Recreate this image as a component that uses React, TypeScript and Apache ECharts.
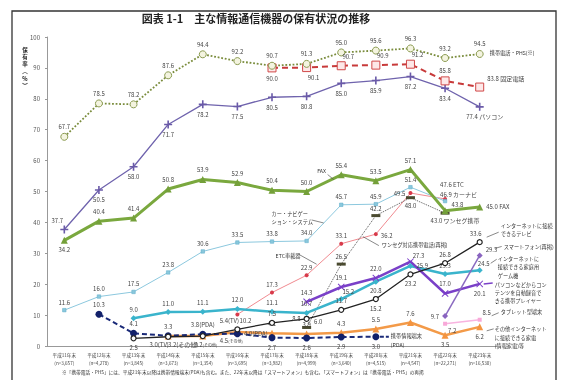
import React, { useEffect, useRef } from "react";
import * as echarts from "echarts";

const FONT = '"Noto Sans CJK JP", "Noto Sans", sans-serif';

const categories = ["平成11年末", "平成12年末", "平成13年末", "平成14年末", "平成15年末", "平成16年末", "平成17年末", "平成18年末", "平成19年末", "平成20年末", "平成21年末", "平成22年末", "平成23年末"];
const sampleSizes = ["3,657", "4,278", "3,845", "3,673", "3,354", "3,695", "3,982", "4,999", "3,640", "4,515", "4,547", "22,271", "16,530"];

const N = null;
const mobile = [67.7, 78.5, 78.2, 87.6, 94.4, 92.2, 90.7, 91.3, 95.0, 95.6, 96.3, 93.2, 94.5];
const landline = [N, N, N, N, N, N, 90.0, 90.1, 90.7, 90.9, 91.2, 85.8, 83.8];
const pc = [37.7, 50.5, 58.0, 71.7, 78.2, 77.5, 80.5, 80.8, 85.0, 85.9, 87.2, 83.4, 77.4];
const fax = [34.2, 40.4, 41.4, 50.8, 53.9, 52.9, 50.4, 50.0, 55.4, 53.5, 57.1, 43.8, 45.0];
const carNavi = [11.6, 16.0, 17.5, 23.8, 30.6, 33.5, 33.8, 34.0, 45.7, 45.9, 51.4, 46.9, N];
const etc = [N, N, N, N, N, 10.2, 17.3, 22.9, 33.1, 36.2, 49.5, 47.6, N];
const oneSeg = [N, N, N, N, N, N, N, 6.0, 26.5, 42.2, 48.0, 43.0, N];
const netTv = [N, N, 2.5, 3.0, 3.2, 5.4, 7.5, 8.8, 11.7, 15.2, 23.2, 26.8, 33.6];
const gameConsole = [N, N, 9.0, 11.0, 11.1, 12.0, 11.1, 10.7, 15.2, 20.8, 25.9, 23.3, 24.5];
const musicPlayer = [N, N, N, N, N, N, N, 14.3, 19.1, 22.0, 27.3, 17.0, 20.1];
const smartphone = [N, N, N, N, N, N, N, N, N, N, N, 9.7, 29.3];
const tablet = [N, N, N, N, N, N, N, N, N, N, N, 7.2, 8.5];
const otherAppliance = [N, N, N, 3.2, 3.2, 4.5, 4.1, 3.9, 4.3, 5.5, 7.6, 3.5, 6.2];
const pda = [N, 10.3, 4.1, 3.3, 3.8, 4.0, 2.7, 2.6, 2.9, 3.0, N, N, N];

const yAxisTitleChars = ["保", "有", "率", "︵", "%", "︶"];

const PLUS = "path://M4,0H6V4H10V6H6V10H4V6H0V4H4Z";
const CROSS = "path://M1,0L5,4L9,0L10,1L6,5L10,9L9,10L5,6L1,10L0,9L4,5L0,1Z";

function labelFor(code: string): any {
  const [c, dx, dy] = code.split(":");
  let base: any;
  switch (c) {
    case "t": base = { position: "top", distance: 3 }; break;
    case "b": base = { position: "bottom", distance: 3 }; break;
    case "l": base = { position: "left", distance: 3 }; break;
    case "r": base = { position: "right", distance: 3 }; break;
    case "tr": base = { position: "top", distance: 3, offset: [7, 1] }; break;
    case "br": base = { position: "bottom", distance: 3, offset: [7, -1] }; break;
    case "tl": base = { position: "top", distance: 3, offset: [-7, 1] }; break;
    case "bl": base = { position: "bottom", distance: 3, offset: [-7, -1] }; break;
    case "rt": base = { position: "right", distance: 3, offset: [0, -6] }; break;
    case "rb": base = { position: "right", distance: 3, offset: [0, 5] }; break;
    default: return { show: false };
  }
  if (dx !== undefined) base.offset = [Number(dx), Number(dy)];
  return base;
}

function buildData(values: (number | null)[], pos: string, texts: Record<number, string> = {}) {
  const codes = pos.split(",");
  return values.map((v, i) => {
    if (v == null) return "-";
    const lab = labelFor(codes[i] || "n");
    if (texts[i]) lab.formatter = texts[i];
    return { value: v, label: lab };
  });
}

function line(name: string, values: (number | null)[], pos: string, texts: Record<number, string>, style: any) {
  return {
    name,
    type: "line",
    data: buildData(values, pos, texts),
    connectNulls: false,
    label: {
      show: true,
      fontSize: 6,
      color: "#444",
      fontFamily: FONT,
      formatter: (p: any) => Number(p.value).toFixed(1),
      rich: { s: { fontSize: 4, color: "#444", fontFamily: FONT } },
    },
    ...style,
  };
}

export default function App() {
  const ref = useRef<HTMLDivElement>(null);
  useEffect(() => {
    const chart = echarts.init(ref.current!, null, { renderer: "svg" });
    const option: any = {
      animation: false,
      textStyle: { fontFamily: FONT },
      grid: { left: 47, right: 66, top: 37, bottom: 34 },
      xAxis: {
        type: "category",
        data: categories,
        boundaryGap: true,
        axisLine: { lineStyle: { color: "#999", width: 1 } },
        axisTick: { show: false },
        axisLabel: {
          interval: 0,
          fontSize: 4.6,
          lineHeight: 8,
          color: "#444",
          margin: 5,
          fontFamily: FONT,
          formatter: (v: string, i: number) => `${v}\n(n=${sampleSizes[i]})`,
        },
      },
      yAxis: {
        type: "value",
        min: 0,
        max: 100,
        interval: 10,
        axisLine: { show: true, lineStyle: { color: "#999", width: 1 } },
        axisTick: { show: true, length: 2, lineStyle: { color: "#999" } },
        splitLine: { show: false },
        axisLabel: { fontSize: 6, color: "#555", margin: 7, fontFamily: FONT },
      },
      series: [
        line("その他インターネットに接続できる家電", otherAppliance, "n,n,n,b:15:-1,b:3:-1,b:-6:-1,t,t,t,t,t,b,b",
          { 3: "3.2(その他)", 4: "3.2{s|(その他)}", 5: "4.5{s|(その他)}" },
          { symbol: "triangle", symbolSize: 7, lineStyle: { color: "#f39a48", width: 2.5 }, itemStyle: { color: "#f39440" }, z: 3 }),
        line("携帯情報端末(PDA)", pda, "n,t,t,t,t,r,b,b,b,b,n,n,n",
          { 4: "3.8(PDA)", 5: "4.0(PDA)" },
          { symbol: "circle", symbolSize: 7, lineStyle: { color: "#1a2a78", width: 2, type: [5, 3] }, itemStyle: { color: "#12216a" }, z: 4 }),
        line("インターネットに接続できるテレビ", netTv, "n,n,b,b:-9:-1,n,t:-8:0,t,l,t,b,b,t,t:-4:0",
          { 3: "3.0(TV)", 5: "5.4(TV)" },
          { symbol: "circle", symbolSize: 5, lineStyle: { color: "#222", width: 1.3 }, itemStyle: { color: "#fff", borderColor: "#222", borderWidth: 1.2 }, z: 5 }),
        line("タブレット型端末", tablet, "n,n,n,n,n,n,n,n,n,n,n,br,tr", {},
          { symbol: "rect", symbolSize: 4, lineStyle: { color: "#f8b4e0", width: 1.5 }, itemStyle: { color: "#f8a8d8" }, z: 3 }),
        line("インターネットに接続できる家庭用ゲーム機", gameConsole, "n,n,t,t,t,t,t,t,tr,b,r,t,t:4:2", {},
          { symbol: "diamond", symbolSize: 6, lineStyle: { color: "#3ab4cc", width: 2.5 }, itemStyle: { color: "#3ab4cc" }, z: 4 }),
        line("携帯プレイヤー", musicPlayer, "n,n,n,n,n,n,n,t,t,t,t:8:3,t,b", {},
          { symbol: CROSS, symbolSize: 7, lineStyle: { color: "#7a40c8", width: 2.5 }, itemStyle: { color: "#7a3cc8" }, z: 4 }),
        line("スマートフォン(再掲)", smartphone, "n,n,n,n,n,n,n,n,n,n,n,l,rt", {},
          { symbol: "diamond", symbolSize: 6, lineStyle: { color: "#8a6ac0", width: 1.5 }, itemStyle: { color: "#8a64c0" }, z: 4 }),
        line("ETC車載器", etc, "n,n,n,n,n,b:8:-2,t,t,t,r:0:1,l,r:-10:-14,n", { 11: "47.6 ETC" },
          { symbol: "circle", symbolSize: 4, lineStyle: { color: "#f08a90", width: 1 }, itemStyle: { color: "#d83a4a" }, z: 3 }),
        line("ワンセグ対応携帯電話(再掲)", oneSeg, "n,n,n,n,n,n,n,rt,t,t,b,b:10:0,n", { 11: "43.0 ワンセグ携帯" },
          { symbol: "rect", symbolSize: [9, 3], lineStyle: { color: "#555", width: 1, type: "dotted" }, itemStyle: { color: "#4a4a30" }, z: 3 }),
        line("カー・ナビゲーション・システム", carNavi, "t,t,t,t,t,t,t,t,t,t,t,r:-10:-7,n", { 11: "46.9 カーナビ" },
          { symbol: "rect", symbolSize: 3.5, lineStyle: { color: "#8cc8de", width: 1 }, itemStyle: { color: "#8ac8dc", borderColor: "#5aaac8", borderWidth: 0.5 }, z: 3 }),
        line("FAX", fax, "b,t,t,t,t,t,t,t,t,t,t,rt,r", { 12: "45.0 FAX" },
          { symbol: "triangle", symbolSize: 7, lineStyle: { color: "#7aa83e", width: 3 }, itemStyle: { color: "#74a03a" }, z: 4 }),
        line("パソコン", pc, "tl,b,b,b,b,b,b,b,b,b,b,b,b:5:0", { 12: "77.4 パソコン" },
          { symbol: PLUS, symbolSize: 8, lineStyle: { color: "#6f63ad", width: 1.3 }, itemStyle: { color: "#6a5aa8" }, z: 4 }),
        line("固定電話", landline, "n,n,n,n,n,n,b,br,tr,tr,tr,t,r:0:-9", { 12: "83.8 固定電話" },
          { symbol: "rect", symbolSize: 8, lineStyle: { color: "#c83a3a", width: 2, type: [6, 4] }, itemStyle: { color: "#fde8e8", borderColor: "#d04848", borderWidth: 1 }, z: 4 }),
        line("携帯電話・PHS(※)", mobile, "t,t,t,t,t,t,t,t,t,t,t,t,t", {},
          { symbol: "circle", symbolSize: 7, lineStyle: { color: "#7a8c3c", width: 1.8, type: "dotted" }, itemStyle: { color: "#f4f4e0", borderColor: "#8a9a50", borderWidth: 1 }, z: 4 }),
      ],
    };
    chart.setOption(option);

    const px = (arr: (number | null)[], i: number) => chart.convertToPixel({ gridIndex: 0 }, [i, arr[i] as number]) as number[];

    type Ann = { arr: (number | null)[]; i: number; text: string; dx: number; dy: number; va?: string; align?: string; leader?: number[][]; leaderColor?: string; leaderDash?: boolean; leaderWidth?: number };
    const anns: Ann[] = [
      { arr: mobile, i: 12, text: "携帯電話・PHS(※)", dx: 10, dy: -1, va: "middle" },
      { arr: fax, i: 7, text: "FAX", dx: 15, dy: -21, va: "middle", align: "center", leader: [[21, -17], [27, -12]] },
      { arr: carNavi, i: 7, text: "カー・ナビゲー\nション・システム", dx: -35, dy: -32, va: "top", leader: [[5, -21], [17, -18]] },
      { arr: etc, i: 7, text: "ETC車載器", dx: -31, dy: -20, va: "middle", leader: [[-8, -21], [10, -11]] },
      { arr: oneSeg, i: 9, text: "ワンセグ対応携帯電話(再掲)", dx: 6, dy: 29, va: "middle", leader: [[3, 30], [-13, 21]] },
      { arr: netTv, i: 12, text: "インターネットに接続\nできるテレビ", dx: 21, dy: -21, va: "top", leader: [[7, -5], [19, -10]] },
      { arr: smartphone, i: 12, text: "スマートフォン(再掲)", dx: 24, dy: -9, va: "middle", leader: [[15, -7], [22, -9]] },
      { arr: gameConsole, i: 12, text: "インターネットに\n接続できる家庭用\nゲーム機", dx: 18, dy: -16, va: "top", leader: [[11, -7], [17, -11]] },
      { arr: musicPlayer, i: 12, text: "パソコンなどからコン\nテンツを自動録音で\nきる携帯プレイヤー", dx: 15, dy: -4, va: "top", leader: [[4, 0], [13, -1]], leaderColor: "#7a40c8", leaderWidth: 1.5 },
      { arr: tablet, i: 12, text: "タブレット型端末", dx: 21, dy: -8, va: "middle", leader: [[12, -4], [19, -7]] },
      { arr: otherAppliance, i: 12, text: "その他インターネット\nに接続できる家電\n(情報家電)等", dx: 15, dy: -2, va: "top", leader: [[7, 4], [14, 2]] },
      { arr: pda, i: 9, text: "携帯情報端末\n(PDA)", dx: 15, dy: -5, va: "top", leader: [[4, 0], [13, 0]], leaderColor: "#1a2a78", leaderDash: true, leaderWidth: 2 },
    ];

    const graphics: any[] = [
      { type: "rect", shape: { x: 12, y: 11, width: 544, height: 420 }, style: { fill: "none", stroke: "#333", lineWidth: 1.3 }, silent: true },
      { type: "text", x: 256, y: 18, style: { text: "図表 1-1　主な情報通信機器の保有状況の推移", fontSize: 11, fontWeight: "bold", fontFamily: FONT, fill: "#222", align: "center", verticalAlign: "middle" } },
      { type: "text", x: 62, y: 372, style: { text: "※「携帯電話・PHS」には、平成21年末以降は携帯情報端末(PDA)も含む。また、22年末以降は「スマートフォン」も含む。「スマートフォン」は「携帯電話・PHS」の再掲", fontSize: 4.7, fontFamily: FONT, fill: "#333", align: "left", verticalAlign: "middle" } },
    ];
    yAxisTitleChars.forEach((ch, k) => {
      graphics.push({ type: "text", x: 25, y: 47 + k * 7.2, style: { text: ch, fontSize: 5.5, fontWeight: "bold", fontFamily: FONT, fill: "#222", align: "center", verticalAlign: "top" } });
    });
    anns.forEach((a) => {
      const [x0, y0] = px(a.arr, a.i);
      graphics.push({
        type: "text",
        x: x0 + a.dx,
        y: y0 + a.dy,
        z: 10,
        style: { text: a.text, fontSize: 5.2, lineHeight: 8.3, fontFamily: FONT, fill: "#333", align: a.align || "left", verticalAlign: a.va || "middle" },
      });
      if (a.leader) {
        graphics.push({
          type: "line",
          z: 10,
          shape: { x1: x0 + a.leader[0][0], y1: y0 + a.leader[0][1], x2: x0 + a.leader[1][0], y2: y0 + a.leader[1][1] },
          style: { stroke: a.leaderColor || "#555", lineWidth: a.leaderWidth || 0.7, lineDash: a.leaderDash ? [4, 2] : null },
        });
      }
    });
    chart.setOption({ graphic: graphics });
    return () => chart.dispose();
  }, []);
  return <div ref={ref} style={{ position: "fixed", left: 0, top: 0, width: 563, height: 380 }} />;
}
